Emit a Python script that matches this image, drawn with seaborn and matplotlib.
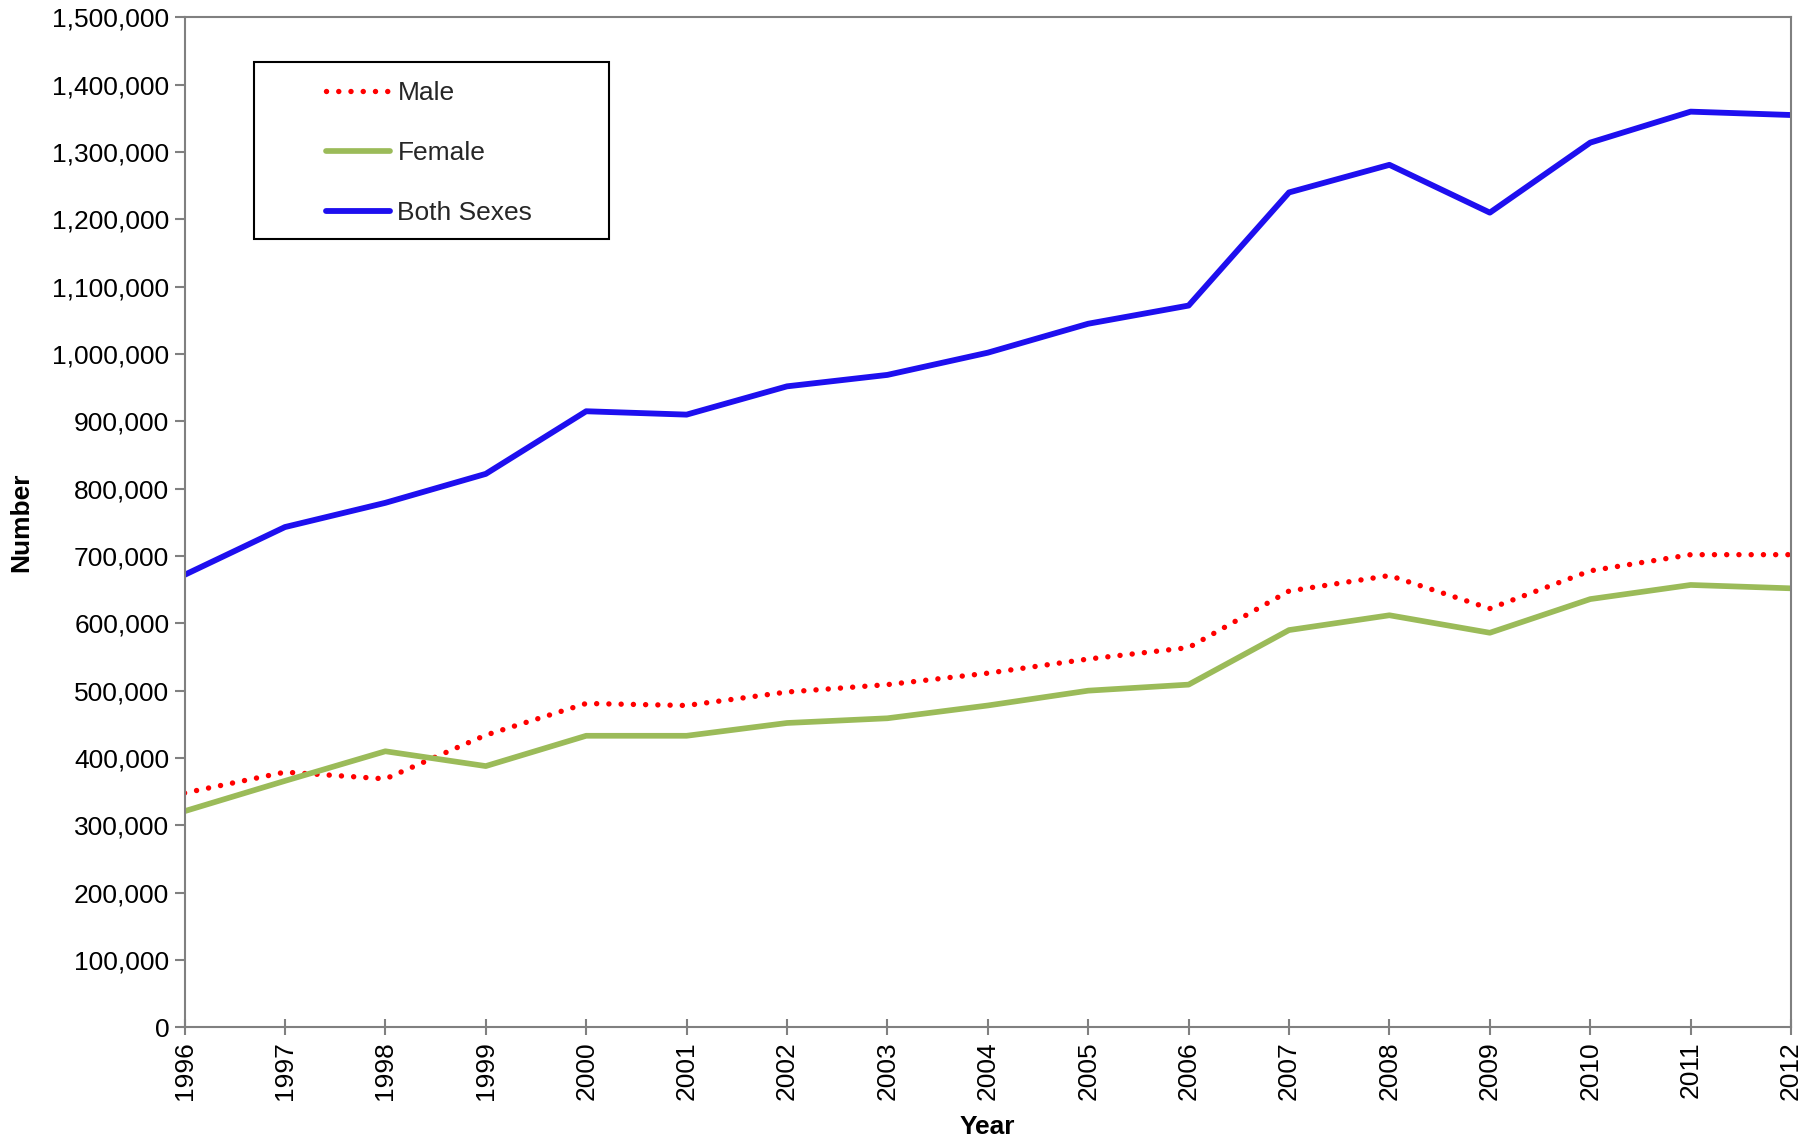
import matplotlib
matplotlib.use("Agg")
import matplotlib.pyplot as plt
import matplotlib.ticker as mticker
from matplotlib.patches import Rectangle
import seaborn as sns
import pandas as pd

years = list(range(1996, 2013))
male = [348000, 379000, 369000, 434000, 481000, 478000, 498000, 509000, 526000,
        547000, 564000, 648000, 671000, 622000, 678000, 702000, 702000]
female = [321000, 366000, 410000, 388000, 433000, 433000, 452000, 459000, 478000,
          500000, 509000, 590000, 612000, 586000, 636000, 657000, 652000]
both = [672000, 743000, 779000, 822000, 915000, 910000, 952000, 969000, 1002000,
        1045000, 1072000, 1240000, 1281000, 1210000, 1314000, 1360000, 1355000]
y_ticks = list(range(0, 1500001, 100000))

sns.set_theme(style="white")
plt.rcParams['font.family'] = ['Liberation Sans', 'DejaVu Sans']

fig = plt.figure(figsize=(18.2, 11.44), dpi=100)
ax = fig.add_axes([0.1014, 0.102, 0.8827, 0.8828])

df = pd.DataFrame({"Year": years, "Male": male, "Female": female, "Both Sexes": both})

sns.lineplot(data=df, x="Year", y="Male", ax=ax, color="#FF0000", linewidth=3.9,
             linestyle=(0, (0.01, 2.25)), dash_capstyle='round', label="Male")
sns.lineplot(data=df, x="Year", y="Female", ax=ax, color="#9BBB59", linewidth=4.1,
             label="Female", solid_capstyle='round')
sns.lineplot(data=df, x="Year", y="Both Sexes", ax=ax, color="#1E0FEF", linewidth=4.2,
             label="Both Sexes", solid_capstyle='round')

fs = 19
ax.set_xlim(1996, 2012)
ax.set_ylim(0, 1500000)
ax.set_xticks(years)
ax.set_xticklabels([str(y) for y in years], rotation=90, fontsize=fs)
ax.set_yticks(y_ticks)
ax.yaxis.set_major_formatter(mticker.FuncFormatter(lambda v, p: f"{int(v):,}"))
ax.tick_params(axis='y', labelsize=fs, direction='out', length=7, width=1.5,
               color='#808080', left=True, pad=4, labelcolor='black')
ax.tick_params(axis='x', direction='inout', length=12, width=1.5,
               color='#808080', bottom=True, pad=4, labelcolor='black')
for s in ax.spines.values():
    s.set_color('#808080')
    s.set_linewidth(1.5)

ax.set_xlabel("Year", fontsize=fs, fontweight='bold', color='black')
ax.set_ylabel("Number", fontsize=fs, fontweight='bold', color='black')
ax.xaxis.set_label_coords(0.5, -0.087)
ax.yaxis.set_label_coords(-0.094, 0.5)

# legend box
ax.add_patch(Rectangle((0.0434, 0.7805), 0.2211, 0.1758, transform=ax.transAxes,
                       facecolor='white', edgecolor='black', linewidth=1.5, zorder=4))
leg = ax.legend(loc='upper left', bbox_to_anchor=(0.0882, 0.937), fontsize=fs,
                frameon=False, handlelength=2.4, handletextpad=0.3,
                labelspacing=1.36, borderpad=0, borderaxespad=0)
leg.set_zorder(5)

fig.savefig("out.png", dpi=100)
